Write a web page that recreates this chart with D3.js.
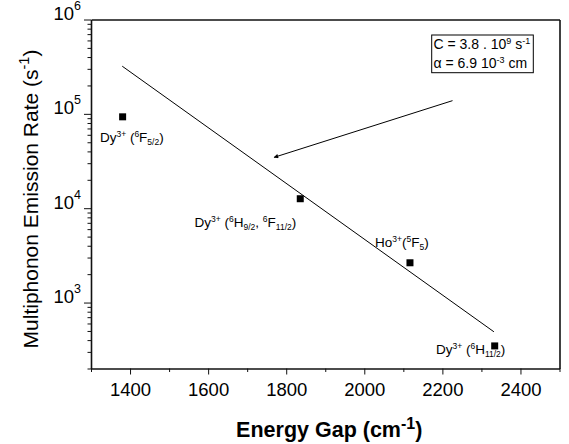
<html>
<meta charset="utf-8">
<head>
<script src="https://cdn.jsdelivr.net/npm/d3@7/dist/d3.min.js"></script>
<style>
  body { margin: 0; background: #fff; }
  text { font-family: "Liberation Sans", Arial, sans-serif; fill: #000; }
  .axis path, .axis line { stroke: #111; }
</style>
</head>
<body>
<svg id="chart" width="569" height="444"></svg>
<script>
// measured points (energy gap cm-1, multiphonon rate s-1)
var energyGap = [1381, 1836, 2117, 2334];
var rate = [93000, 12600, 2640, 347];
// level labels split in [text, kind] pieces, kind = "" | "sup" | "sub"
var levelLabels = [
  [["Dy",""],["3+","sup"],[" (",""],["6","sup"],["F",""],["5/2","sub"],[")",""]],
  [["Dy",""],["3+","sup"],[" (",""],["6","sup"],["H",""],["9/2","sub"],[", ",""],["6","sup"],["F",""],["11/2","sub"],[")",""]],
  [["Ho",""],["3+","sup"],["(",""],["5","sup"],["F",""],["5","sub"],[")",""]],
  [["Dy",""],["3+","sup"],[" (",""],["6","sup"],["H",""],["11/2","sub"],[")",""]]
];
// fitted energy gap law, end points of the drawn line
var fitGap = [1380, 2332];
var fitRate = [320000, 490];
// arrow annotation (data coords)
var arrowGap = [2226, 1769];
var arrowRate = [138000, 34600];
// axis ticks
var xMajor = [1400, 1600, 1800, 2000, 2200, 2400];
var xMinor = [1300, 1500, 1700, 1900, 2100, 2300, 2500];
var yMajor = [1e3, 1e4, 1e5, 1e6];
var yMinor = [200, 300, 400, 500, 600, 700, 800, 900,
              2000, 3000, 4000, 5000, 6000, 7000, 8000, 9000,
              20000, 30000, 40000, 50000, 60000, 70000, 80000, 90000,
              200000, 300000, 400000, 500000, 600000, 700000, 800000, 900000];
// fit parameters box
var fitText = [
  [["C = 3.8 . 10",""],["9","sup"],[" s",""],["-1","sup"]],
  [["\u03b1 = 6.9 10",""],["-3","sup"],[" cm",""]]
];

var svg = d3.select("#chart");
var mLeft = 91, mRight = 559.5, mTop = 19.5, mBottom = 368.5;

var x = d3.scaleLinear().domain([1300, 2500]).range([mLeft, mRight]);
var y = d3.scaleLog().domain([200, 1e6]).range([mBottom, mTop]);

// write pieces with super/subscripts into a text element
function pieces(sel, parts, size, small, up, down) {
  var shift = 0;
  parts.forEach(function(p) {
    var want = p[1] == "sup" ? -up : (p[1] == "sub" ? down : 0);
    sel.append("tspan")
      .attr("dy", want - shift)
      .attr("font-size", p[1] ? small : size)
      .text(p[0]);
    shift = want;
  });
}

// minor ticks
svg.append("g").attr("class", "axis")
  .attr("transform", "translate(0," + mBottom + ")")
  .call(d3.axisBottom(x).tickValues(xMinor).tickSize(3.5).tickFormat(""))
  .select(".domain").remove();
svg.append("g").attr("class", "axis")
  .attr("transform", "translate(" + mLeft + ",0)")
  .call(d3.axisLeft(y).tickValues(yMinor).tickSize(3.5).tickFormat(""))
  .select(".domain").remove();

// major axes
var gx = svg.append("g").attr("class", "axis")
  .attr("transform", "translate(0," + mBottom + ")")
  .call(d3.axisBottom(x).tickValues(xMajor).tickSize(6).tickSizeOuter(0).tickPadding(8).tickFormat(d3.format("d")));
gx.selectAll("text").attr("font-size", "18.5px").attr("font-family", null);
gx.select(".domain").attr("stroke-width", 1.6);

var gy = svg.append("g").attr("class", "axis")
  .attr("transform", "translate(" + mLeft + ",0)")
  .call(d3.axisLeft(y).tickValues(yMajor).tickSize(7).tickSizeOuter(0).tickPadding(3));
gy.select(".domain").attr("stroke-width", 1.6);
gy.selectAll("text").attr("font-family", null).text(null).each(function(d) {
  pieces(d3.select(this), [["10",""],[String(Math.round(Math.log10(d))),"sup"]], "18.5px", "12.5px", 10, 0);
});

// frame top / right
svg.append("g").attr("class", "axis")
  .attr("transform", "translate(0," + mTop + ")")
  .call(d3.axisTop(x).tickValues([]).tickSizeOuter(0))
  .select(".domain").attr("stroke-width", 1.6);
svg.append("g").attr("class", "axis")
  .attr("transform", "translate(" + mRight + ",0)")
  .call(d3.axisRight(y).tickValues([]).tickSizeOuter(0))
  .select(".domain").attr("stroke-width", 1.6);

// fit line
var line = d3.line().x(function(d) { return x(d[0]); }).y(function(d) { return y(d[1]); });
svg.append("path")
  .datum(d3.zip(fitGap, fitRate))
  .attr("d", line)
  .attr("fill", "none").attr("stroke", "#000").attr("stroke-width", 1);

// points
svg.selectAll("rect.pt")
  .data(d3.zip(energyGap, rate))
  .enter().append("rect")
  .attr("class", "pt")
  .attr("x", function(d) { return x(d[0]) - 3.5; })
  .attr("y", function(d) { return y(d[1]) - 3.5; })
  .attr("width", 7).attr("height", 7)
  .attr("fill", "#000");

// level labels, offset from their point
var labelOffset = [[-22.7, 25], [-105.7, 28.5], [-35, -16], [-58.7, 8]];
levelLabels.forEach(function(parts, i) {
  var t = svg.append("text")
    .attr("x", x(energyGap[i]) + labelOffset[i][0])
    .attr("y", y(rate[i]) + labelOffset[i][1]);
  pieces(t, parts, "13.5px", "8.5px", 5, 3);
});

// arrow
svg.append("defs").append("marker")
  .attr("id", "head").attr("viewBox", "0 0 10 10")
  .attr("refX", 9).attr("refY", 5)
  .attr("markerWidth", 8).attr("markerHeight", 4.5)
  .attr("orient", "auto").attr("markerUnits", "userSpaceOnUse")
  .append("path").attr("d", "M0,0L10,5L0,10z").attr("fill", "#000");
svg.append("line")
  .attr("x1", x(arrowGap[0])).attr("y1", y(arrowRate[0]))
  .attr("x2", x(arrowGap[1])).attr("y2", y(arrowRate[1]))
  .attr("stroke", "#000").attr("stroke-width", 1)
  .attr("marker-end", "url(#head)");

// parameter box
svg.append("rect")
  .attr("x", 431.7).attr("y", 35).attr("width", 101.6).attr("height", 37.7)
  .attr("fill", "#fff").attr("stroke", "#000").attr("stroke-width", 1);
fitText.forEach(function(parts, i) {
  var t = svg.append("text").attr("x", 433.5).attr("y", 48.5 + i * 19);
  pieces(t, parts, "14px", "9px", 5, 0);
});

// axis titles
var xt = svg.append("text")
  .attr("x", (mLeft + mRight) / 2 + 4).attr("y", 437)
  .attr("text-anchor", "middle").attr("font-weight", "bold");
pieces(xt, [["Energy Gap (cm",""],["-1","sup"],[")",""]], "21.5px", "16px", 8, 0);

var yt = svg.append("text")
  .attr("transform", "translate(38," + ((mTop + mBottom) / 2 + 5) + ") rotate(-90)")
  .attr("text-anchor", "middle");
pieces(yt, [["Multiphonon Emission Rate (s",""],["-1","sup"],[")",""]], "21px", "14.5px", 9, 0);
</script>
</body>
</html>
